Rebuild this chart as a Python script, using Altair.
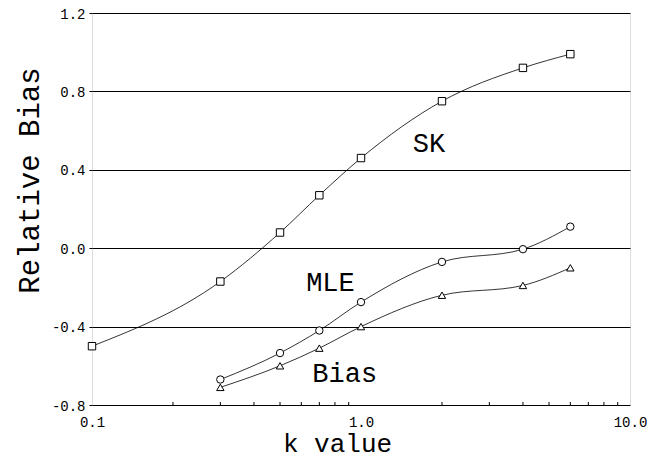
import altair as alt
import pandas as pd

# k values shared by all three estimators
k_values = [0.3, 0.5, 0.7, 1.0, 2.0, 4.0, 6.0]

# relative bias of each estimator
sk_k = [0.1] + k_values
sk_bias = [-0.50, -0.17, 0.08, 0.27, 0.46, 0.75, 0.92, 0.99]
mle_bias = [-0.67, -0.535, -0.42, -0.275, -0.07, -0.005, 0.11]
bias_bias = [-0.71, -0.60, -0.51, -0.40, -0.24, -0.19, -0.10]

# series annotations
label_text = ["SK", "MLE", "Bias"]
label_k = [1.79, 0.77, 0.87]
label_y = [0.53, -0.18, -0.64]

# axis ticks
y_ticks = [-0.8, -0.4, 0.0, 0.4, 0.8, 1.2]
x_major = [0.1, 1.0, 10.0]
x_minor = [0.2, 0.3, 0.4, 0.5, 0.6, 0.7, 0.8, 0.9, 2, 3, 4, 5, 6, 7, 8, 9]

FONT = "Liberation Mono"
W, H = 538, 392

rows = []
for k, v in zip(sk_k, sk_bias):
    rows.append({"k": k, "bias": v, "series": "SK"})
for k, v in zip(k_values, mle_bias):
    rows.append({"k": k, "bias": v, "series": "MLE"})
for k, v in zip(k_values, bias_bias):
    rows.append({"k": k, "bias": v, "series": "Bias"})
df = pd.DataFrame(rows)

x_scale = alt.Scale(type="log", domain=[0.1, 10], nice=False)
y_scale = alt.Scale(domain=[-0.8, 1.2], nice=False, zero=False)

# plain hyphen for negative tick labels
tick_label = "replace(format(datum.value, '.1f'), '\u2212', '-')"

x_enc = alt.X(
    "k:Q", scale=x_scale,
    axis=alt.Axis(
        title="k value", values=x_major, labelExpr=tick_label, grid=False, ticks=False,
        domain=False, labelFont=FONT, labelFontSize=14, labelColor="black",
        labelPadding=10, labelFlush=False,
        titleFont=FONT, titleFontSize=26, titleFontWeight="normal", titleColor="black",
        titleX=245, titleY=46, titleBaseline="alphabetic", titleAlign="center",
    ),
)
y_enc = alt.Y(
    "bias:Q", scale=y_scale,
    axis=alt.Axis(
        title="Relative Bias", values=y_ticks, labelExpr=tick_label, grid=True,
        gridColor="black", gridWidth=1, gridOpacity=1,
        tickSize=3, tickColor="black", domain=False,
        labelFont=FONT, labelFontSize=14, labelColor="black", labelPadding=4,
        labelFlush=False, labelOffset=1,
        titleFont=FONT, titleFontSize=29, titleFontWeight="normal", titleColor="black",
        titleAngle=270, titleX=-54, titleY=167, titleAlign="center",
        titleBaseline="alphabetic",
    ),
)

base = alt.Chart(df)

lines = base.mark_line(interpolate="monotone", color="black", strokeWidth=0.8).encode(
    x=x_enc, y=y_enc, detail="series:N"
)

points = base.mark_point(
    filled=True, fill="white", stroke="black", strokeWidth=1, size=55, opacity=1
).encode(
    x="k:Q", y="bias:Q",
    shape=alt.Shape(
        "series:N",
        scale=alt.Scale(domain=["SK", "MLE", "Bias"],
                        range=["square", "circle", "triangle-up"]),
        legend=None,
    ),
)

minor = alt.Chart(pd.DataFrame({"k": x_minor})).mark_rule(
    color="black", strokeWidth=1
).encode(x="k:Q", y=alt.value(H), y2=alt.value(H - 3))

labels = alt.Chart(
    pd.DataFrame({"text": label_text, "k": label_k, "y": label_y})
).mark_text(font=FONT, fontSize=27, color="black").encode(
    x="k:Q", y="y:Q", text="text:N"
)

chart = (
    alt.layer(lines, minor, points, labels)
    .properties(
        width=W, height=H,
        autosize=alt.AutoSizeParams(type="none"),
        padding={"left": 92, "top": 13, "right": 27, "bottom": 53},
    )
    .configure_view(stroke="black", strokeWidth=1)
    .configure(background="white")
)

chart.save("out.html", embed_options={"renderer": "svg", "actions": False})
